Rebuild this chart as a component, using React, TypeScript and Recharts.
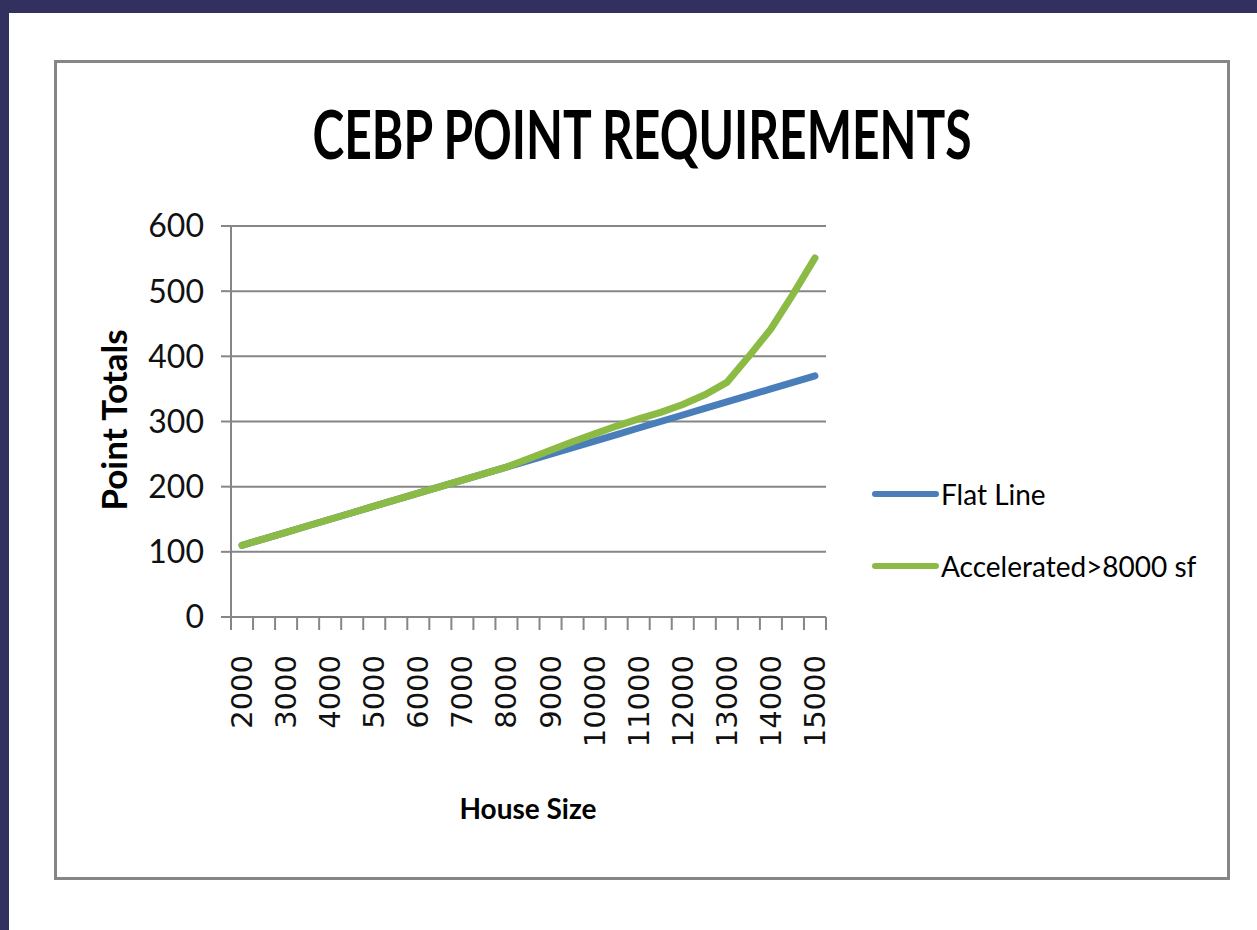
import React from "react";
import { LineChart, Line, XAxis, YAxis, CartesianGrid } from "recharts";

// CEBP point requirements by house size

const houseSizes = [
  2000, 2500, 3000, 3500, 4000, 4500, 5000, 5500, 6000, 6500, 7000, 7500, 8000,
  8500, 9000, 9500, 10000, 10500, 11000, 11500, 12000, 12500, 13000, 13500,
  14000, 14500, 15000,
];
const flatLine = [
  110, 120, 130, 140, 150, 160, 170, 180, 190, 200, 210, 220, 230, 240, 250,
  260, 270, 280, 290, 300, 310, 320, 330, 340, 350, 360, 370,
];
const accelerated = [
  110, 120, 130, 140, 150, 160, 170, 180, 190, 200, 210, 220, 230, 243, 256,
  269, 281, 293, 304, 314, 326, 341, 360, 400, 442, 495, 551,
];
const yTicks = [0, 100, 200, 300, 400, 500, 600];

const seriesNames = ["Flat Line", "Accelerated>8000 sf"];
const seriesColors = ["#4a7ebb", "#8cbb45"];

const data = houseSizes.map((size, i) => ({
  size: String(size),
  flat: flatLine[i],
  acc: accelerated[i],
}));

// chart geometry (inside the grey box)
const CHART_W = 1170;
const CHART_H = 814;
const PLOT_LEFT = 174;
const PLOT_TOP = 163;
const PLOT_RIGHT = 769;
const PLOT_BOTTOM = 554;
const Y_AXIS_W = 80;
const X_AXIS_H = 60;
const GREY = "#868686";

const XTick = (props: any) => {
  const { x, payload, index } = props;
  const half = (PLOT_RIGHT - PLOT_LEFT) / houseSizes.length / 2;
  const y = PLOT_BOTTOM;
  const last = index === houseSizes.length - 1;
  return (
    <g>
      <line x1={x - half} x2={x - half} y1={y} y2={y + 13} stroke={GREY} strokeWidth={2} />
      {last && (
        <line x1={x + half} x2={x + half} y1={y} y2={y + 13} stroke={GREY} strokeWidth={2} />
      )}
      {index % 2 === 0 && (
        <text
          x={x}
          y={y + 38}
          transform={`rotate(-90, ${x}, ${y + 38})`}
          textAnchor="end"
          dominantBaseline="central"
          fontFamily="DejaVu Sans"
          fontSize={29}
          fill="#111"
        >
          {payload.value}
        </text>
      )}
    </g>
  );
};

export default function App() {
  return (
    <div
      style={{
        position: "absolute",
        left: 0,
        top: 0,
        width: 1257,
        height: 930,
        background: "#fff",
        overflow: "hidden",
      }}
    >
      <div style={{ position: "absolute", left: 0, top: 0, width: 1257, height: 13, background: "#31305f" }} />
      <div style={{ position: "absolute", left: 0, top: 0, width: 9, height: 930, background: "#31305f" }} />

      <div
        style={{
          position: "absolute",
          left: 54,
          top: 60,
          width: 1176,
          height: 820,
          border: `3px solid ${GREY}`,
          boxSizing: "border-box",
        }}
      >
        <LineChart
          width={CHART_W}
          height={CHART_H}
          data={data}
          margin={{
            left: PLOT_LEFT - Y_AXIS_W,
            top: PLOT_TOP,
            right: CHART_W - PLOT_RIGHT,
            bottom: CHART_H - PLOT_BOTTOM - X_AXIS_H,
          }}
        >
          <CartesianGrid vertical={false} stroke={GREY} strokeWidth={2} />
          <XAxis
            dataKey="size"
            scale="band"
            interval={0}
            height={X_AXIS_H}
            axisLine={{ stroke: GREY, strokeWidth: 2 }}
            tickLine={false}
            tick={<XTick />}
          />
          <YAxis
            width={Y_AXIS_W}
            domain={[0, 600]}
            ticks={yTicks}
            interval={0}
            axisLine={{ stroke: GREY, strokeWidth: 2 }}
            tickLine={{ stroke: GREY, strokeWidth: 2 }}
            tickSize={10}
            tickMargin={17}
            tick={{ fontFamily: "Lato", fontSize: 32, fill: "#111" }}
          />
          <Line
            type="linear"
            dataKey="flat"
            name={seriesNames[0]}
            stroke={seriesColors[0]}
            strokeWidth={7}
            strokeLinecap="round"
            dot={false}
            isAnimationActive={false}
          />
          <Line
            type="linear"
            dataKey="acc"
            name={seriesNames[1]}
            stroke={seriesColors[1]}
            strokeWidth={7}
            strokeLinecap="round"
            dot={false}
            isAnimationActive={false}
          />
        </LineChart>
      </div>

      <svg
        width={1257}
        height={930}
        style={{ position: "absolute", left: 0, top: 0, pointerEvents: "none" }}
      >
        <text
          x={642}
          y={159}
          textAnchor="middle"
          fontFamily="Lato"
          fontWeight="bold"
          fontSize={66}
          textLength={659}
          lengthAdjust="spacingAndGlyphs"
          fill="#000"
        >
          CEBP POINT REQUIREMENTS
        </text>
        <text
          x={127}
          y={420}
          transform="rotate(-90, 127, 420)"
          textAnchor="middle"
          fontFamily="Lato"
          fontWeight="bold"
          fontSize={35}
          fill="#000"
        >
          Point Totals
        </text>
        <text
          x={528}
          y={819}
          textAnchor="middle"
          fontFamily="Lato"
          fontWeight="bold"
          fontSize={28}
          fill="#000"
        >
          House Size
        </text>
        {seriesNames.map((name, i) => (
          <g key={name}>
            <line
              x1={875}
              x2={936}
              y1={494 + i * 72}
              y2={494 + i * 72}
              stroke={seriesColors[i]}
              strokeWidth={6}
              strokeLinecap="round"
            />
            <text
              x={941}
              y={494 + i * 72}
              dominantBaseline="central"
              fontFamily="Lato"
              fontSize={28}
              fill="#000"
            >
              {name}
            </text>
          </g>
        ))}
      </svg>
    </div>
  );
}
